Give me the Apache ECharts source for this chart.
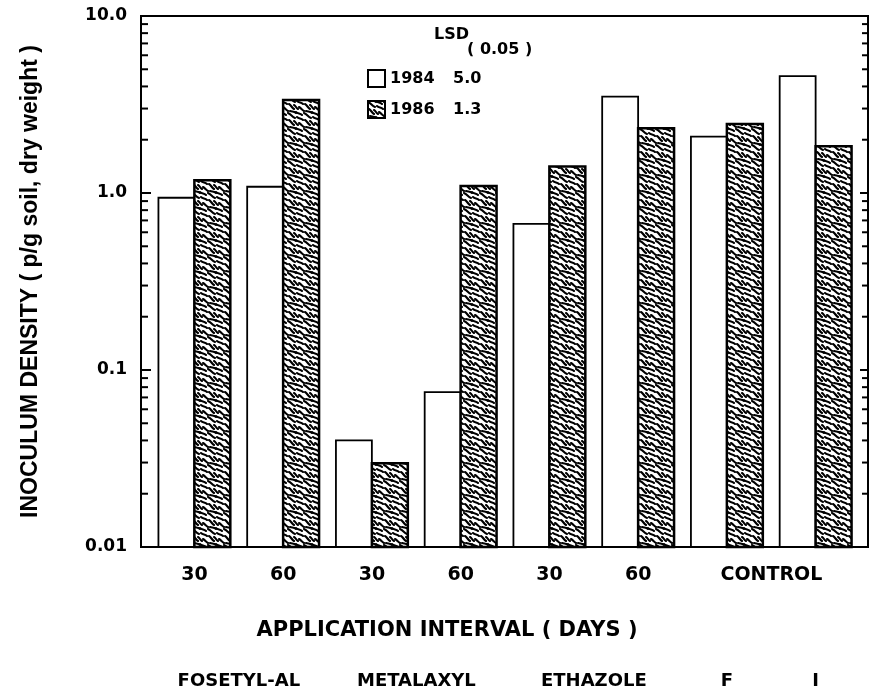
<!DOCTYPE html>
<html>
<head>
<meta charset="utf-8">
<script src="https://cdn.jsdelivr.net/npm/echarts@6/dist/echarts.min.js"></script>
<style>html,body{margin:0;padding:0;background:#fff}#c{width:872px;height:692px}</style>
</head>
<body>
<div id="c"></div>
<script>
// ---- data ----
const intervalLabels = ['30', '60', '30', '60', '30', '60', 'CONTROL', ''];
const treatmentLabels = ['FOSETYL-AL', '', 'METALAXYL', '', 'ETHAZOLE', '', 'F', 'I'];
const series1984 = [0.94, 1.085, 0.040, 0.075, 0.67, 3.5, 2.08, 4.58];
const series1986 = [1.18, 3.35, 0.0297, 1.095, 1.41, 2.32, 2.45, 1.84];
const seriesNames = ['1984', '1986'];
const lsdValues = ['5.0', '1.3'];
const yMin = 0.01, yMax = 10;
const yTickValues = [0.01, 0.1, 1, 10];
const yTickLabels = ['0.01', '0.1', '1.0', '10.0'];
const minorTickValues = [0.02, 0.03, 0.04, 0.05, 0.06, 0.07, 0.08, 0.09,
                         0.2, 0.3, 0.4, 0.5, 0.6, 0.7, 0.8, 0.9,
                         2, 3, 4, 5, 6, 7, 8, 9];

// ---- texture for 1986 bars ----
function makePattern() {
  const s = 16;
  const c = document.createElement('canvas');
  c.width = s; c.height = s;
  const g = c.getContext('2d');
  g.fillStyle = '#fff';
  g.fillRect(0, 0, s, s);
  g.strokeStyle = '#000';
  g.lineWidth = 2.1;
  g.lineCap = 'round';
  g.lineJoin = 'round';
  const paths = [
    [[0, 1], [3, 2], [4, 5], [7, 6]],
    [[8, 0], [10, 2], [12, 1], [14, 3]],
    [[9, 5], [11, 7], [13, 6], [15, 8]],
    [[1, 8], [3, 9], [4, 12], [6, 13]],
    [[6, 9], [8, 10], [8, 12], [10, 13]],
    [[11, 11], [13, 12], [14, 14], [16, 15]],
    [[2, 15], [4, 16], [6, 15], [8, 17]]
  ];
  for (let dx = -s; dx <= s; dx += s) {
    for (let dy = -s; dy <= s; dy += s) {
      paths.forEach(p => {
        g.beginPath();
        g.moveTo(p[0][0] + dx, p[0][1] + dy);
        g.bezierCurveTo(p[1][0] + dx, p[1][1] + dy, p[2][0] + dx, p[2][1] + dy, p[3][0] + dx, p[3][1] + dy);
        g.stroke();
      });
    }
  }
  return c;
}
const pattern = { image: makePattern(), repeat: 'repeat' };

const chart = echarts.init(document.getElementById('c'), null, { renderer: 'canvas' });
const boldDV = { fontFamily: 'DejaVu Sans', fontWeight: 'bold', color: '#000' };

const option = {
  animation: false,
  backgroundColor: '#fff',
  title: [
    { text: 'LSD', left: 429, top: 22, textStyle: Object.assign({ fontSize: 16 }, boldDV) },
    { text: '( 0.05 )', left: 462, top: 37, textStyle: Object.assign({ fontSize: 16 }, boldDV) }
  ],
  legend: {
    data: seriesNames,
    orient: 'vertical',
    left: 362, top: 64,
    itemWidth: 17, itemHeight: 17, itemGap: 12, itemTextGap: 13,
    icon: 'rect',
    selectedMode: false,
    formatter: function (name) {
      return '{a|' + name + '}{b|' + lsdValues[seriesNames.indexOf(name)] + '}';
    },
    textStyle: {
      rich: {
        a: Object.assign({ fontSize: 16, width: 63 }, boldDV),
        b: Object.assign({ fontSize: 16 }, boldDV)
      }
    }
  },
  grid: { left: 150, right: 12, top: 16, bottom: 145 },
  xAxis: [
    {
      type: 'category',
      position: 'bottom',
      data: intervalLabels.map((t, i) => i === 6 ? { value: t, textStyle: { padding: [0, 0, 0, 89] } } : t),
      axisLine: { show: false },
      axisTick: { show: false },
      axisLabel: Object.assign({ interval: 0, margin: 19, fontSize: 19 }, boldDV),
      name: 'APPLICATION INTERVAL ( DAYS )',
      nameLocation: 'middle',
      nameGap: 73,
      nameTextStyle: Object.assign({ fontSize: 21, padding: [0, 116, 0, 0] }, boldDV)
    },
    {
      type: 'category',
      position: 'bottom',
      offset: 117,
      data: treatmentLabels.map((t, i) => (i === 0 || i === 2 || i === 4) ? { value: t, textStyle: { padding: [0, 0, 0, 89] } } : t),
      axisLine: { show: false },
      axisTick: { show: false },
      axisLabel: Object.assign({ interval: 0, margin: 8, fontSize: 18 }, boldDV)
    }
  ],
  yAxis: [
    {
      type: 'log', logBase: 10, min: yMin, max: yMax, startValue: yMin,
      position: 'left', offset: 9,
      axisLine: { show: false },
      splitLine: { show: false },
      axisTick: { show: true, inside: true, length: 10, lineStyle: { color: '#000', width: 2 } },
      axisLabel: Object.assign({
        margin: 14, fontSize: 17,
        formatter: function (v) {
          const idx = yTickValues.findIndex(t => Math.abs(Math.log10(t) - Math.log10(v)) < 1e-6);
          return idx >= 0 ? yTickLabels[idx] : '';
        }
      }, boldDV),
      name: 'INOCULUM DENSITY ( p/g soil, dry weight )',
      nameLocation: 'middle',
      nameRotate: 90,
      nameGap: 99,
      nameTextStyle: { fontFamily: 'Liberation Sans', fontWeight: 'bold', fontSize: 23, color: '#000' }
    },
    {
      type: 'log', logBase: 10, min: yMin, max: yMax,
      position: 'right', offset: 9,
      axisLine: { show: false },
      splitLine: { show: false },
      axisTick: { show: true, inside: true, length: 9, lineStyle: { color: '#000', width: 2 } },
      axisLabel: { show: false }
    }
  ],
  graphic: [
    {
      type: 'rect', z: 100,
      shape: { x: 141, y: 16, width: 727, height: 531 },
      style: { fill: 'none', stroke: '#000', lineWidth: 2 }
    }
  ],
  series: [
    {
      name: seriesNames[0], type: 'custom',
      data: series1984.map((v, i) => [i, v]),
      itemStyle: { color: '#fff', borderColor: '#000', borderWidth: 1.8 },
      renderItem: barRenderer(0, '#fff', 1.8)
    },
    {
      name: seriesNames[1], type: 'custom',
      data: series1986.map((v, i) => [i, v]),
      itemStyle: { color: pattern, borderColor: '#000', borderWidth: 2.5 },
      renderItem: barRenderer(1, pattern, 2.5)
    },
    {
      name: 'minor', type: 'custom', silent: true, clip: false,
      data: minorTickValues.map(v => [0, v]),
      renderItem: function (params, api) {
        const y = api.coord([0, api.value(1)])[1];
        const cs = params.coordSys;
        const xl = cs.x - 9, xr = cs.x + cs.width + 9;
        return {
          type: 'group',
          children: [
            { type: 'line', shape: { x1: xl, y1: y, x2: xl + 7, y2: y }, style: { stroke: '#000', lineWidth: 2 } },
            { type: 'line', shape: { x1: xr - 7, y1: y, x2: xr, y2: y }, style: { stroke: '#000', lineWidth: 2 } }
          ]
        };
      }
    }
  ]
};

// bars drawn through the axes' scales: pair of 36px bars centred on each category
function barRenderer(slot, fill, bw) {
  return function (params, api) {
    const top = api.coord([api.value(0), api.value(1)]);
    const base = api.coord([api.value(0), yMin]);
    const catW = api.size([1, 0])[0];
    const barW = catW * 0.405;
    const x = top[0] - barW + slot * barW;
    return {
      type: 'rect',
      shape: { x: x, y: top[1], width: barW, height: base[1] - top[1] },
      style: { fill: fill, stroke: '#000', lineWidth: bw }
    };
  };
}

chart.setOption(option);
</script>
</body>
</html>
